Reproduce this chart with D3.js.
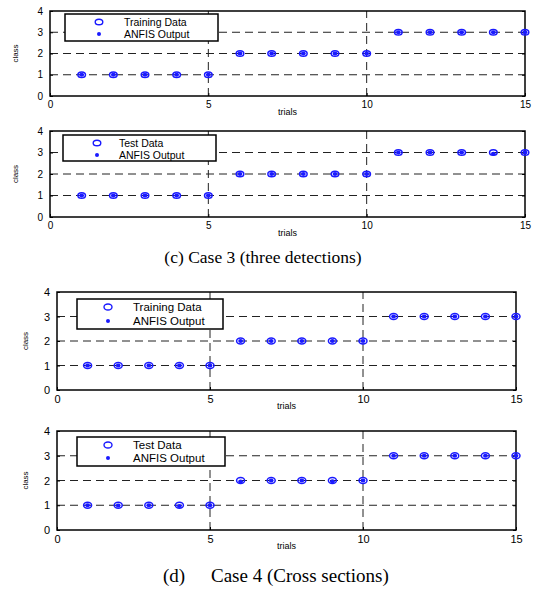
<!DOCTYPE html>
<html><head><meta charset="utf-8">
<script src="https://cdn.jsdelivr.net/npm/d3@7"></script>
<style>body{margin:0;background:#fff}</style>
</head><body>
<svg id="c" width="534" height="592"></svg>
<script>
const trials = [1,2,3,4,5,6,7,8,9,10,11,12,13,14,15];
const xTicks = [0,5,10,15];
const yTicks = [0,1,2,3,4];
const caseC_train    = [1,1,1,1,1,2,2,2,2,2,3,3,3,3,3];
const caseC_trainOut = [1,1,1,1,1,2,2,2,2,2,3,3,3,3,3];
const caseC_test     = [1,1,1,1,1,2,2,2,2,2,3,3,3,3,3];
const caseC_testOut  = [1,1,1,1,1,2,2,2,2,2,3,3,3,2.94,3];
const caseD_train    = [1,1,1,1,1,2,2,2,2,2,3,3,3,3,3];
const caseD_trainOut = [1,1,1,1,1,2,2,2,2,2,3,3,3,3,3];
const caseD_test     = [1,1,1,1,1,2,2,2,2,2,3,3,3,3,3];
const caseD_testOut  = [1,0.99,1,0.97,1,1.96,2,2,1.97,2,3,3,3,3,3];
const captionC = "(c) Case 3 (three detections)";
const captionD1 = "(d)";
const captionD2 = "Case 4 (Cross sections)";

const svg = d3.select("#c");
const blue = "#1a1aff";
const sans = "Liberation Sans, Arial, sans-serif";
const serif = "Liberation Serif, Times New Roman, serif";

const panels = [
  {x0:50, x1:525, y0:96, y1:11, obs:caseC_train, out:caseC_trainOut, label:"Training Data",
   leg:{x:65,y:14,w:153,h:27,mx:34,tx:59,r1:9,r2:20,fs:10.5}, ylab:{x:18}, fs:10, rx:3.8, ry:2.8},
  {x0:50, x1:525, y0:217, y1:131, obs:caseC_test, out:caseC_testOut, label:"Test Data",
   leg:{x:63,y:135,w:153,h:26,mx:34,tx:56,r1:9,r2:20,fs:10.5}, ylab:{x:18}, fs:10, rx:3.8, ry:2.8},
  {x0:57, x1:516, y0:390, y1:292, obs:caseD_train, out:caseD_trainOut, label:"Training Data",
   leg:{x:77,y:299,w:146,h:30,mx:31,tx:56,r1:9,r2:22,fs:11.5}, ylab:{x:28}, fs:11, rx:4, ry:3},
  {x0:57, x1:516, y0:530, y1:431, obs:caseD_test, out:caseD_testOut, label:"Test Data",
   leg:{x:77,y:437,w:148,h:29,mx:31,tx:56,r1:9,r2:21,fs:11.5}, ylab:{x:28}, fs:11, rx:4, ry:3}
];

panels.forEach(p => {
  const x = d3.scaleLinear().domain([0,15]).range([p.x0,p.x1]);
  const y = d3.scaleLinear().domain([0,4]).range([p.y0,p.y1]);
  const g = svg.append("g");
  g.selectAll(".hg").data([1,2,3]).enter().append("line")
    .attr("x1",p.x0).attr("x2",p.x1).attr("y1",d=>y(d)).attr("y2",d=>y(d))
    .attr("stroke","#222").attr("stroke-width",1).attr("stroke-dasharray","8,5");
  g.selectAll(".vg").data([5,10]).enter().append("line")
    .attr("x1",d=>x(d)).attr("x2",d=>x(d)).attr("y1",p.y0).attr("y2",p.y1)
    .attr("stroke","#222").attr("stroke-width",1).attr("stroke-dasharray","8,5");
  const xa = g.append("g").attr("transform",`translate(0,${p.y0})`)
    .call(d3.axisBottom(x).tickValues(xTicks).tickFormat(d3.format("d")).tickSize(-3).tickPadding(5));
  const ya = g.append("g").attr("transform",`translate(${p.x0},0)`)
    .call(d3.axisLeft(y).tickValues(yTicks).tickFormat(d3.format("d")).tickSize(-3).tickPadding(7));
  g.append("g").attr("transform",`translate(${p.x1},0)`)
    .call(d3.axisRight(y).tickValues(yTicks).tickSize(-3).tickFormat(""));
  [xa,ya].forEach(a=>{
    a.selectAll("text").attr("font-family",sans).attr("font-size",p.fs).attr("fill","#000");
  });
  g.selectAll(".tick line").attr("stroke","#000");
  g.selectAll(".domain").remove();
  g.append("rect").attr("x",p.x0).attr("y",p.y1).attr("width",p.x1-p.x0).attr("height",p.y0-p.y1)
    .attr("fill","none").attr("stroke","#000").attr("stroke-width",1.5);
  g.append("text").attr("x",(p.x0+p.x1)/2).attr("y",p.y0+19).attr("text-anchor","middle")
    .attr("font-family",sans).attr("font-size",9).text("trials");
  g.append("text").attr("transform",`translate(${p.ylab.x},${(p.y0+p.y1)/2}) rotate(-90)`)
    .attr("text-anchor","middle").attr("font-family",sans).attr("font-size",8).text("class");
  g.selectAll(".o").data(trials).enter().append("ellipse")
    .attr("cx",d=>x(d)).attr("cy",(d,i)=>y(p.obs[i])).attr("rx",p.rx).attr("ry",p.ry)
    .attr("fill","none").attr("stroke",blue).attr("stroke-width",1.5);
  g.selectAll(".f").data(trials).enter().append("ellipse")
    .attr("cx",d=>x(d)).attr("cy",(d,i)=>y(p.out[i])).attr("rx",2.4).attr("ry",2).attr("fill",blue);
  const L = p.leg;
  g.append("rect").attr("x",L.x).attr("y",L.y).attr("width",L.w).attr("height",L.h)
    .attr("fill","#fff").attr("stroke","#000").attr("stroke-width",1.5);
  g.append("ellipse").attr("cx",L.x+L.mx).attr("cy",L.y+L.r1-1).attr("rx",p.rx).attr("ry",p.ry)
    .attr("fill","none").attr("stroke",blue).attr("stroke-width",1.4);
  g.append("circle").attr("cx",L.x+L.mx).attr("cy",L.y+L.r2).attr("r",2).attr("fill",blue);
  g.append("text").attr("x",L.x+L.tx).attr("y",L.y+L.r1+3).attr("font-family",sans)
    .attr("font-size",L.fs).text(p.label);
  g.append("text").attr("x",L.x+L.tx).attr("y",L.y+L.r2+4).attr("font-family",sans)
    .attr("font-size",L.fs).text("ANFIS Output");
});

svg.append("text").attr("x",263).attr("y",263).attr("text-anchor","middle")
  .attr("font-family",serif).attr("font-size",17.5).text(captionC);
svg.append("text").attr("x",163).attr("y",582)
  .attr("font-family",serif).attr("font-size",19).text(captionD1);
svg.append("text").attr("x",211).attr("y",582)
  .attr("font-family",serif).attr("font-size",19).text(captionD2);
</script>
</body></html>
